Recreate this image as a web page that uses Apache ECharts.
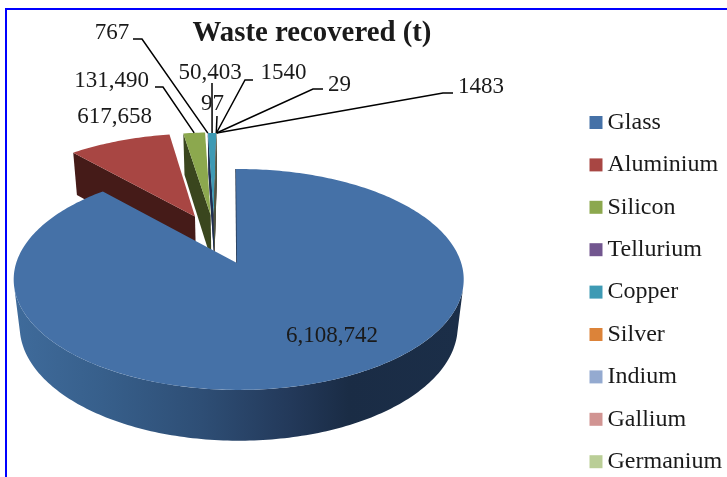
<!DOCTYPE html>
<html>
<head>
<meta charset="utf-8">
<style>html,body{margin:0;padding:0;background:#fff}#chart{width:727px;height:477px}</style>
<script src="https://cdn.jsdelivr.net/npm/echarts@6/dist/echarts.min.js"></script>
</head>
<body>
<div id="chart"></div>
<script>
// Recovered tonnage per material
const materials = ['Glass', 'Aluminium', 'Silicon', 'Tellurium', 'Copper', 'Silver', 'Indium', 'Gallium', 'Germanium'];
const tonnes = [6108742, 617658, 131490, 767, 50403, 97, 1540, 29, 1483];
const valueLabels = ['6,108,742', '617,658', '131,490', '767', '50,403', '97', '1540', '29', '1483'];
const faceColors = ['#4571A7', '#A84643', '#8CA84E', '#72568F', '#3E9AB4', '#DC8339', '#94AAD0', '#D19492', '#BACE97'];
const wallColors = ['#2C4A6E', '#451B18', '#3A461E', '#1E2440', '#1E2F52', '#5A3418', '#3D4660', '#573D3C', '#4C5540'];

// Where each slice sits once pulled out of the pie, in units of the pie radius
const sliceOffsets = [[0, 0], [-0.21, 0.46], [-0.135, 0.475], [-0.12, 0.467], [-0.12, 0.467], [-0.12, 0.467], [-0.12, 0.467], [-0.12, 0.467], [-0.12, 0.467]];
const glassHubShift = -0.008;
const glassRotation = -0.8 * Math.PI / 180;

// Text placement of the value labels: label centre and the leader's elbow and start
const labelCentres = [[332, 336], [114.5, 117], [111.5, 81], [112, 33], [210, 73], [212.5, 104], [283.5, 73], [339.5, 85], [481, 87]];
const leaderStarts = [null, null, [155, 87], [133, 39], [212, 83], [217, 116], [253, 80], [323, 89], [453, 93]];
const leaderElbows = [null, null, [163, 87], [142, 39], null, null, [245, 80], [313, 89], [443, 93]];

// Perspective projection of the pie: u to the right, v away from the viewer, z downward
const CX = 238.7, CY = 263, RX = 222.5, RY = 108, PERSP = 0.149, PERSP_Z = 0.0268, DEPTH = 48;
const SERIF = '"Liberation Serif", "Times New Roman", serif';

function project(u, v, z) {
  const w = 1 + PERSP * v + PERSP_Z * z;
  return [CX + RX * u / w, CY - (RY * v - DEPTH * z) / w];
}
const total = tonnes.reduce((a, b) => a + b, 0);
function sliceAngles(i) {
  const before = tonnes.slice(0, i).reduce((a, b) => a + b, 0);
  return [before / total * 2 * Math.PI, (before + tonnes[i]) / total * 2 * Math.PI];
}
function rim(i, theta, z) {
  const o = sliceOffsets[i];
  const t = i === 0 ? theta + glassRotation : theta;
  return project(o[0] + Math.sin(t), o[1] + Math.cos(t), z);
}
function hub(i, z) {
  const o = sliceOffsets[i];
  return project(o[0] + (i === 0 ? glassHubShift : 0), o[1], z);
}
function arcPoints(i, a0, a1, z) {
  const steps = Math.max(1, Math.ceil((a1 - a0) / (Math.PI / 180)));
  const pts = [];
  for (let s = 0; s <= steps; s++) pts.push(rim(i, a0 + (a1 - a0) * s / steps, z));
  return pts;
}

const wallGradient = new echarts.graphic.LinearGradient(14, 0, 460, 0, [
  { offset: 0, color: '#3F6B9B' },
  { offset: 0.2, color: '#375F8B' },
  { offset: 0.42, color: '#2E4E75' },
  { offset: 0.62, color: '#23395A' },
  { offset: 0.75, color: '#1A2C45' },
  { offset: 1, color: '#1B2E48' }
], true);

function renderSlice(i) {
  return function () {
    const [a0, a1] = sliceAngles(i);
    const children = [];
    if (i === 0) {
      // Front wall of the large slice, bounded by the silhouette rulings on either side
      const tangent = Math.acos(-PERSP) + 3 * Math.PI / 180 - glassRotation;
      const front0 = tangent, front1 = 2 * Math.PI - tangent + 2 * glassRotation * -1;
      const wall = arcPoints(i, front0, front1, 0).concat(arcPoints(i, front0, front1, 1).reverse());
      children.push({ type: 'polygon', shape: { points: wall }, style: { fill: wallGradient } });
      const edge = [rim(i, a0, 0), hub(i, 0)];
      children.push({ type: 'polyline', shape: { points: edge }, style: { stroke: '#24364F', lineWidth: 1.5, fill: null } });
    } else {
      // Cut face on the left side of a pulled-out slice
      const cut = [rim(i, a0, 0), hub(i, 0), hub(i, 1), rim(i, a0, 1)];
      children.push({ type: 'polygon', shape: { points: cut }, style: { fill: wallColors[i] } });
    }
    const face = [hub(i, 0)].concat(arcPoints(i, a0, a1, 0));
    children.push({ type: 'polygon', shape: { points: face }, style: { fill: faceColors[i] } });
    return { type: 'group', children };
  };
}

function renderAnnotation(params) {
  const i = params.dataIndex;
  const children = [];
  if (leaderStarts[i]) {
    const [a0, a1] = sliceAngles(i);
    const anchor = rim(i, (a0 + a1) / 2, 0);
    const pts = [leaderStarts[i]];
    if (leaderElbows[i]) pts.push(leaderElbows[i]);
    pts.push(anchor);
    children.push({ type: 'polyline', shape: { points: pts }, style: { stroke: '#000', lineWidth: 1.5, fill: null } });
  }
  children.push({
    type: 'text',
    style: {
      x: labelCentres[i][0], y: labelCentres[i][1], text: valueLabels[i],
      font: '23px ' + SERIF, fill: '#1a1a1a', align: 'center', verticalAlign: 'middle'
    }
  });
  return { type: 'group', children };
}

const series = materials.map((name, i) => ({
  type: 'custom',
  name,
  coordinateSystem: 'none',
  z: i === 0 ? 5 : 3,
  silent: true,
  itemStyle: { color: faceColors[i] },
  data: [[tonnes[i]]],
  renderItem: renderSlice(i)
}));
series.push({
  type: 'custom',
  name: 'Value labels',
  coordinateSystem: 'none',
  z: 10,
  silent: true,
  data: tonnes.map(v => [v]),
  renderItem: renderAnnotation
});

const chart = echarts.init(document.getElementById('chart'), null, { renderer: 'canvas' });
chart.setOption({
  animation: false,
  backgroundColor: '#fff',
  title: {
    text: 'Waste recovered (t)',
    left: 312, top: 34,
    textAlign: 'center', textVerticalAlign: 'middle',
    padding: 0,
    textStyle: { fontFamily: SERIF, fontWeight: 'bold', fontSize: 28.8, color: '#1a1a1a' }
  },
  legend: {
    data: materials,
    orient: 'vertical',
    left: 589.5, top: 110.5,
    padding: 0,
    icon: 'rect',
    itemWidth: 13, itemHeight: 13,
    itemGap: 18.4,
    selectedMode: false,
    textStyle: { fontFamily: SERIF, fontSize: 24, color: '#1a1a1a', padding: [0, 0, 0, 0], lineHeight: 24 }
  },
  graphic: [
    { type: 'line', z: 20, shape: { x1: 6, y1: 9, x2: 727, y2: 9 }, style: { stroke: '#0000FF', lineWidth: 2 } },
    { type: 'line', z: 20, shape: { x1: 6, y1: 8, x2: 6, y2: 477 }, style: { stroke: '#0000FF', lineWidth: 2 } }
  ],
  series
});
</script>
</body>
</html>
